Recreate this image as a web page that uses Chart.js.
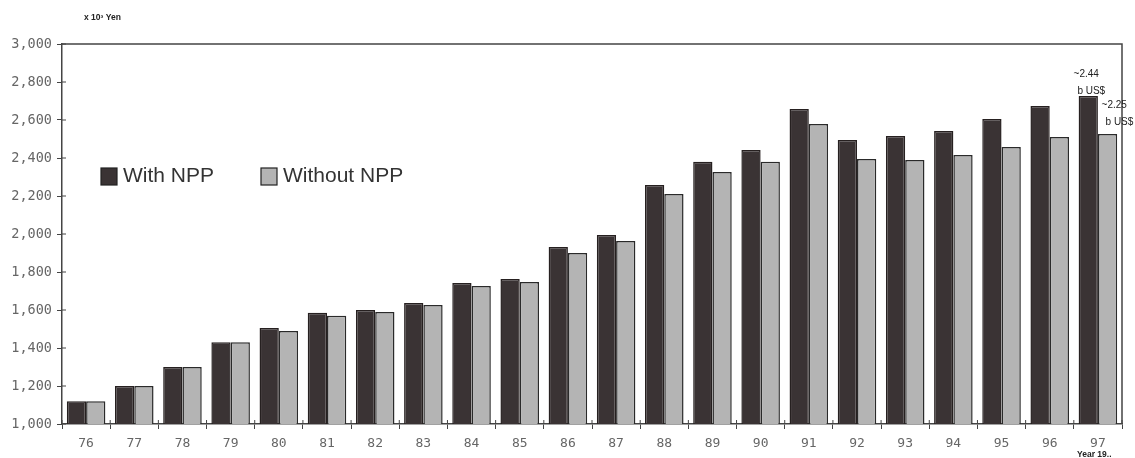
<!DOCTYPE html>
<html>
<head>
<meta charset="utf-8">
<script src="https://cdn.jsdelivr.net/npm/chart.js@4/dist/chart.umd.min.js"></script>
<style>
  html, body { margin: 0; padding: 0; background: #fff; }
  #wrap { width: 1135px; height: 458px; }
</style>
</head>
<body>
<div id="wrap"><canvas id="gdpChart" width="1135" height="458"></canvas></div>
<script>
// years 1976..1997 and GDP (x 10^3 Yen) with / without nuclear power
const years = ['76', '77', '78', '79', '80', '81', '82', '83', '84', '85', '86',
               '87', '88', '89', '90', '91', '92', '93', '94', '95', '96', '97'];
const withNPP = [1120, 1200, 1300, 1430, 1505, 1585, 1600, 1637, 1742, 1763, 1932,
                 1995, 2258, 2380, 2442, 2658, 2495, 2516, 2542, 2605, 2674, 2726];
const withoutNPP = [1120, 1200, 1300, 1430, 1490, 1570, 1590, 1626, 1726, 1747, 1900,
                    1963, 2210, 2326, 2380, 2579, 2395, 2390, 2416, 2458, 2510, 2526];
const seriesNames = ['With NPP', 'Without NPP'];
const yTicks = { min: 1000, max: 3000, step: 200 };
const notes = [['~2.44', 'b US$'], ['~2.25', 'b US$']];

const DARK = '#3a3334';
const LIGHT = '#b4b4b4';
const AXIS = '#444';
const LABEL = '#666';
const MONO = '"DejaVu Sans Mono", monospace';

// frame, inner tick marks, legend and small texts
const extras = {
  id: 'extras',
  afterDatasetsDraw(chart) {
    const { ctx, chartArea: a, scales } = chart;
    ctx.save();
    ctx.strokeStyle = AXIS;
    ctx.lineWidth = 1.5;
    ctx.beginPath();
    ctx.moveTo(a.left, a.top);
    ctx.lineTo(a.right, a.top);
    ctx.lineTo(a.right, a.bottom);
    ctx.stroke();

    // ticks crossing the axes
    ctx.lineWidth = 1;
    ctx.beginPath();
    scales.y.ticks.forEach((t, i) => {
      const y = scales.y.getPixelForTick(i);
      ctx.moveTo(a.left, y);
      ctx.lineTo(a.left + 4, y);
    });
    for (let i = 0; i <= years.length; i++) {
      const x = a.left + (a.right - a.left) * i / years.length;
      ctx.moveTo(x, a.bottom);
      ctx.lineTo(x, a.bottom - 4);
    }
    ctx.stroke();

    // legend inside the plot
    ctx.font = '21px "Liberation Sans", Arial, sans-serif';
    ctx.textBaseline = 'middle';
    ctx.textAlign = 'left';
    const legendX = [101, 261];
    chart.data.datasets.forEach((ds, i) => {
      ctx.fillStyle = ds.backgroundColor;
      ctx.fillRect(legendX[i], 168, 16, 17);
      ctx.strokeStyle = '#222';
      ctx.lineWidth = 1.2;
      ctx.strokeRect(legendX[i], 168, 16, 17);
      ctx.fillStyle = '#333';
      ctx.fillText(ds.label, legendX[i] + 22, 176);
    });

    // notes on the last year
    const last = years.length - 1;
    const b0 = chart.getDatasetMeta(0).data[last];
    const b1 = chart.getDatasetMeta(1).data[last];
    ctx.font = '10px "Liberation Sans", Arial, sans-serif';
    ctx.fillStyle = '#222';
    ctx.textBaseline = 'alphabetic';
    ctx.textAlign = 'center';
    ctx.fillText(notes[0][0], b0.x - 2, b0.y - 19);
    ctx.fillText(notes[0][1], b0.x + 3, b0.y - 2);
    ctx.textAlign = 'left';
    ctx.fillText(notes[1][0], b1.x - 6, b1.y - 26);
    ctx.fillText(notes[1][1], b1.x - 2, b1.y - 9);

    ctx.font = 'bold 8.5px "Liberation Sans", Arial, sans-serif';
    ctx.fillText('x 10\u00b3 Yen', 84, 20);
    ctx.fillText('Year 19..', 1077, 457);
    ctx.restore();
  }
};

new Chart(document.getElementById('gdpChart'), {
  type: 'bar',
  data: {
    labels: years,
    datasets: [
      { label: seriesNames[0], data: withNPP, backgroundColor: DARK,
        borderColor: '#262020', borderWidth: 1.5 },
      { label: seriesNames[1], data: withoutNPP, backgroundColor: LIGHT,
        borderColor: '#2a2a2a', borderWidth: 1.5 }
    ]
  },
  options: {
    responsive: false,
    animation: false,
    layout: { padding: { top: 44, right: 13, left: 0, bottom: 0 } },
    datasets: { bar: { categoryPercentage: 0.8, barPercentage: 1.0 } },
    plugins: { legend: { display: false }, tooltip: { enabled: false } },
    scales: {
      x: {
        afterFit(scale) { scale.height = 34; },
        grid: { drawOnChartArea: false, tickLength: 5, color: AXIS, offset: true },
        border: { color: AXIS, width: 1.5 },
        ticks: { color: LABEL, padding: 7, font: { family: MONO, size: 13 } }
      },
      y: {
        min: yTicks.min,
        max: yTicks.max,
        afterFit(scale) { scale.width = 62; },
        grid: { drawOnChartArea: false, tickLength: 5, color: AXIS },
        border: { color: AXIS, width: 1.5 },
        ticks: { stepSize: yTicks.step, color: LABEL, padding: 5,
                 font: { family: MONO, size: 13.5 } }
      }
    }
  },
  plugins: [extras]
});
</script>
</body>
</html>
